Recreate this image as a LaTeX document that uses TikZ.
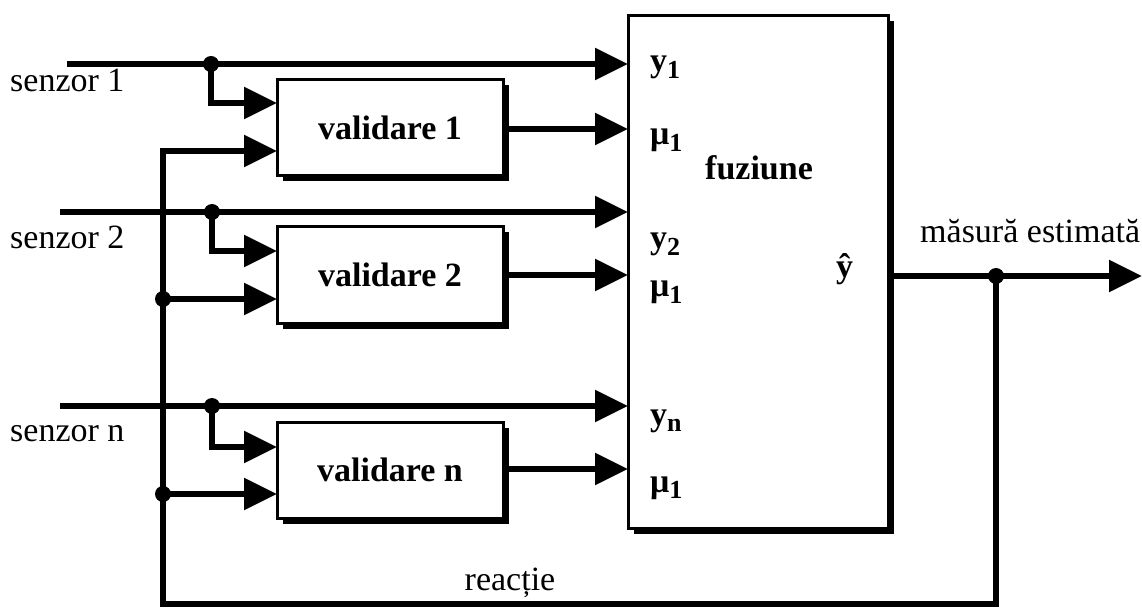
\documentclass[tikz,border=0pt]{standalone}
\usepackage{fontspec}
\setmainfont{Liberation Serif}
\usetikzlibrary{arrows.meta,shadows}
% label with a bold letter and a small raised-down index
\newcommand{\idxlbl}[2]{\textbf{#1}\raisebox{-0.18em}{\fontsize{26}{26}\selectfont\bfseries #2}}
\begin{document}
\begin{tikzpicture}[x=1pt,y=-1pt,
  wire/.style={line width=5.8pt},
  sig/.style={wire,-{Triangle[length=33pt,width=31pt]}},
  blk/.style={draw,line width=3pt,fill=white,inner sep=0pt,
    drop shadow={shadow xshift=5.5pt,shadow yshift=-5.5pt,fill=black,opacity=1}},
  valbox/.style={blk,minimum width=226pt,minimum height=96pt,
    font=\fontsize{34}{38}\selectfont\bfseries},
  txt/.style={font=\fontsize{34}{38}\selectfont,inner sep=0pt},
  btxt/.style={font=\fontsize{34}{38}\selectfont\bfseries,inner sep=0pt},
  junction/.style={circle,fill=black,minimum size=16pt,inner sep=0pt}
]
\useasboundingbox (0,0) rectangle (1142,609);

% fusion block and the three validation blocks
\node[blk,minimum width=260pt,minimum height=512pt] (fuz) at (758,272) {};
\node[valbox] (v1) at (390,128) {validare 1};
\node[valbox] (v2) at (390,275) {validare 2};
\node[valbox] (vn) at (390,470) {validare n};

% sensor inputs
\node[txt,anchor=base west] (s1) at (10,92) {senzor 1};
\node[txt,anchor=base west] (s2) at (10,249) {senzor 2};
\node[txt,anchor=base west] (sn) at (10,441) {senzor n};

\coordinate (s1a) at (67,64);   \coordinate (f1) at (628,64);
\coordinate (s2a) at (60,212);  \coordinate (f3) at (628,212);
\coordinate (sna) at (60,406);  \coordinate (f5) at (628,406);
\coordinate (f2) at (628,129);
\coordinate (f4) at (628,275);
\coordinate (f6) at (628,469);

\node[junction] (d1) at (211,64) {};
\node[junction] (d2) at (212,212) {};
\node[junction] (dn) at (212,406) {};

\coordinate (v1a) at (277,103); \coordinate (v1b) at (277,151);
\coordinate (v2a) at (277,251); \coordinate (v2b) at (277,299);
\coordinate (vna) at (277,447); \coordinate (vnb) at (277,494);

\draw[sig] (s1a) -- (f1);
\draw[sig] (s2a) -- (f3);
\draw[sig] (sna) -- (f5);

\draw[sig] (d1.center) |- (v1a);
\draw[sig] (d2.center) |- (v2a);
\draw[sig] (dn.center) |- (vna);

\draw[sig] (v1.east |- f2) -- (f2);
\draw[sig] (v2.east |- f4) -- (f4);
\draw[sig] (vn.east |- f6) -- (f6);

% output and feedback loop
\coordinate (fo) at (888,276);
\coordinate (out) at (1142,276);
\node[junction] (dout) at (996,276) {};
\coordinate (fbL) at (163,604);
\node[junction] (b2) at (163,299) {};
\node[junction] (bn) at (163,494) {};

\draw[sig] (fo) -- (out);
\draw[sig] (dout.center) |- (fbL) |- (v1b);
\draw[sig] (b2.center) -- (v2b);
\draw[sig] (bn.center) -- (vnb);

% labels
\node[txt,anchor=base west] (mest) at (920,243) {măsură estimată};
\node[txt,anchor=base] (reac) at (510,590) {reacție};

\node[btxt,anchor=base west] (ly1) at (650,72) {\idxlbl{y}{1}};
\node[btxt,anchor=base west] (lm1) at (650,145) {\idxlbl{μ}{1}};
\node[btxt,anchor=base west] (ly2) at (650,249) {\idxlbl{y}{2}};
\node[btxt,anchor=base west] (lm2) at (650,297) {\idxlbl{μ}{1}};
\node[btxt,anchor=base west] (lyn) at (650,425) {\idxlbl{y}{n}};
\node[btxt,anchor=base west] (lmn) at (650,492) {\idxlbl{μ}{1}};
\node[btxt,anchor=base west] (lfz) at (705,180) {fuziune};
\node[btxt,anchor=base west] (lyh) at (836,278) {ŷ};
\end{tikzpicture}
\end{document}
